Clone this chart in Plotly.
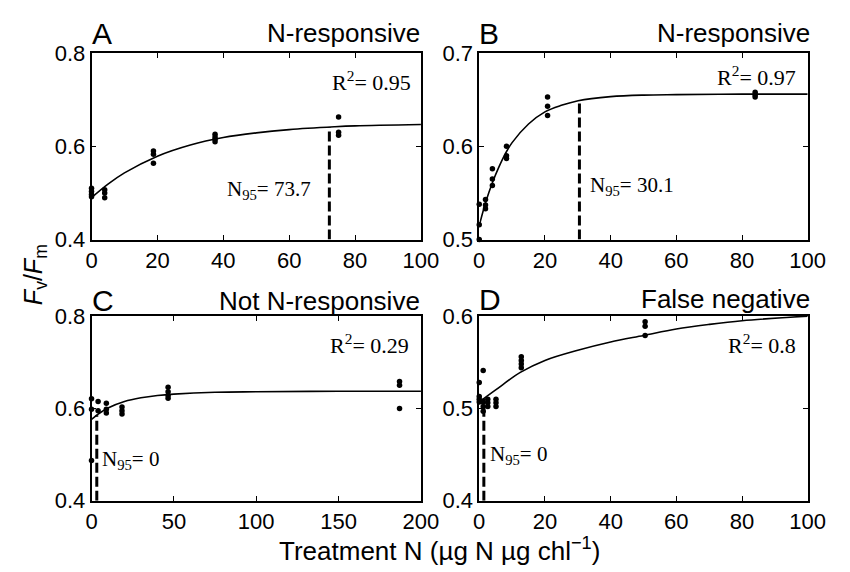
import plotly.graph_objects as go

W, H = 850, 572

# ---------------- data ----------------
# Panel A
a_x = [0, 0, 0, 0, 4, 4, 4, 18.8, 18.8, 18.8, 37.5, 37.5, 37.5, 37.5, 75, 75, 75]
a_y = [0.51, 0.503, 0.497, 0.492, 0.507, 0.50, 0.49, 0.59, 0.583, 0.564, 0.626, 0.62, 0.615, 0.61, 0.663, 0.63, 0.624]
a_fit_x = [0, 5, 10, 20, 30, 40, 50, 60, 73.7, 80, 100]
a_fit_y = [0.49, 0.519, 0.543, 0.579, 0.603, 0.619, 0.629, 0.636, 0.642, 0.644, 0.647]
a_n95 = 72.2
a_r2 = "0.95"
a_n95_txt = "73.7"

# Panel B
b_x = [0, 0, 0, 1.9, 1.9, 1.9, 4, 4, 4, 8.3, 8.3, 8.3, 20.8, 20.8, 20.8, 84, 84, 84]
b_y = [0.538, 0.516, 0.50, 0.543, 0.537, 0.533, 0.576, 0.565, 0.558, 0.60, 0.59, 0.587, 0.653, 0.643, 0.633, 0.658, 0.655, 0.653]
b_fit_x = [0, 2, 4, 6, 8, 10, 15, 20, 25, 30.1, 40, 50, 60, 80, 100]
b_fit_y = [0.515, 0.5405, 0.561, 0.578, 0.5925, 0.604, 0.624, 0.637, 0.644, 0.649, 0.6533, 0.655, 0.6555, 0.656, 0.656]
b_n95 = 30.5
b_r2 = "0.97"
b_n95_txt = "30.1"

# Panel C
c_x = [0, 0, 0, 4, 4, 9, 9, 9, 18.5, 18.5, 18.5, 46.5, 46.5, 46.5, 46.5, 187, 187, 187]
c_y = [0.621, 0.598, 0.487, 0.615, 0.595, 0.611, 0.598, 0.59, 0.603, 0.595, 0.588, 0.646, 0.636, 0.628, 0.622, 0.658, 0.65, 0.60]
c_fit_x = [0, 5, 10, 20, 30, 40, 50, 75, 100, 150, 200]
c_fit_y = [0.576, 0.59, 0.601, 0.615, 0.623, 0.628, 0.631, 0.635, 0.636, 0.637, 0.637]
c_n95 = 3.2
c_r2 = "0.29"
c_n95_txt = "0"

# Panel D
d_x = [0, 0, 0, 0, 1.2, 1.2, 1.2, 1.2, 2.6, 2.6, 2.6, 5.1, 5.1, 5.1, 12.8, 12.8, 12.8, 12.8, 50.5, 50.5, 50.5]
d_y = [0.528, 0.513, 0.51, 0.507, 0.541, 0.507, 0.502, 0.497, 0.51, 0.506, 0.502, 0.51, 0.506, 0.502, 0.556, 0.552, 0.548, 0.544, 0.594, 0.589, 0.579]
d_fit_x = [0, 5, 12.5, 20, 30, 40, 50, 60, 70, 80, 100]
d_fit_y = [0.507, 0.52, 0.539, 0.552, 0.563, 0.572, 0.579, 0.586, 0.591, 0.595, 0.60]
d_n95 = 1.4
d_r2 = "0.8"
d_n95_txt = "0"

panel_letters = ["A", "B", "C", "D"]
panel_titles = ["N-responsive", "N-responsive", "Not N-responsive", "False negative"]
x_ranges = [[0, 100], [0, 100], [0, 200], [0, 100]]
y_ranges = [[0.4, 0.8], [0.5, 0.7], [0.4, 0.8], [0.4, 0.6]]
x_ticks = [[0, 20, 40, 60, 80, 100], [0, 20, 40, 60, 80, 100], [0, 50, 100, 150, 200], [0, 20, 40, 60, 80, 100]]
y_ticks = [[0.4, 0.6, 0.8], [0.5, 0.6, 0.7], [0.4, 0.6, 0.8], [0.4, 0.5, 0.6]]
y_tick_text = [["0.4", "0.6", "0.8"], ["0.5", "0.6", "0.7"], ["0.4", "0.6", "0.8"], ["0.4", "0.5", "0.6"]]

# ---------------- layout (pixel boxes) ----------------
boxes = [  # left, top, right, bottom in px
    (88, 43, 427, 238),
    (487, 43, 825, 238),
    (88, 318, 427, 511),
    (487, 318, 825, 511),
]

def px(x):
    return x / W

def py(y):
    return 1 - y / H

fig = go.Figure()
SANS = "Liberation Sans, Arial, sans-serif"
SERIF = "Liberation Serif, Times New Roman, serif"

panels = [
    (a_x, a_y, a_fit_x, a_fit_y, a_n95, a_r2, a_n95_txt),
    (b_x, b_y, b_fit_x, b_fit_y, b_n95, b_r2, b_n95_txt),
    (c_x, c_y, c_fit_x, c_fit_y, c_n95, c_r2, c_n95_txt),
    (d_x, d_y, d_fit_x, d_fit_y, d_n95, d_r2, d_n95_txt),
]

def interp(xs, ys, x):
    for i in range(len(xs) - 1):
        if xs[i] <= x <= xs[i + 1]:
            t = (x - xs[i]) / (xs[i + 1] - xs[i])
            return ys[i] + t * (ys[i + 1] - ys[i])
    return ys[-1]

for i, (px_, py_, fx, fy, n95, r2, ntxt) in enumerate(panels):
    k = "" if i == 0 else str(i + 1)
    xa, ya = "x" + k, "y" + k
    top = interp(fx, fy, n95)
    fig.add_trace(go.Scatter(x=[n95, n95], y=[y_ranges[i][0], top], mode="lines",
                             line=dict(color="black", width=3, dash="10px,4px"),
                             xaxis=xa, yaxis=ya, showlegend=False, hoverinfo="skip",
                             cliponaxis=False))
    fig.add_trace(go.Scatter(x=fx, y=fy, mode="lines", line=dict(color="black", width=1.6, shape="spline"),
                             xaxis=xa, yaxis=ya, showlegend=False, cliponaxis=False))
    fig.add_trace(go.Scatter(x=px_, y=py_, mode="markers",
                             marker=dict(color="black", size=5.5, symbol="circle"),
                             xaxis=xa, yaxis=ya, showlegend=False, cliponaxis=False))
    l, t, r, b = boxes[i]
    axis_common = dict(showline=True, linecolor="black", linewidth=1.5, mirror="ticks",
                       ticks="inside", ticklen=5, tickwidth=1, tickcolor="black",
                       showgrid=False, zeroline=False,
                       tickfont=dict(family=SANS, size=22, color="black"))
    fig.layout["xaxis" + k] = dict(domain=[px(l), px(r)], anchor=ya, range=x_ranges[i],
                                   tickvals=x_ticks[i], ticktext=[str(v) for v in x_ticks[i]],
                                   **axis_common)
    fig.layout["yaxis" + k] = dict(domain=[py(b), py(t)], anchor=xa, range=y_ranges[i],
                                   tickvals=y_ticks[i], ticktext=y_tick_text[i],
                                   **axis_common)

annotations = []
letter_pos = [(86, 23), (485, 23), (86, 302), (485, 301)]
title_pos = [(428, 22), (829, 22), (428, 302), (829, 300)]
r2_pos = [(419, 72), (815, 67), (417, 347), (815, 347)]
n95_pos = [(225, 186), (599, 182), (97, 468), (496, 463)]
for i in range(4):
    annotations.append(dict(text=panel_letters[i], x=px(letter_pos[i][0]), y=py(letter_pos[i][1]),
                            xref="paper", yref="paper", xanchor="left", yanchor="middle", showarrow=False,
                            font=dict(family=SANS, size=30, color="black")))
    annotations.append(dict(text=panel_titles[i], x=px(title_pos[i][0]), y=py(title_pos[i][1]),
                            xref="paper", yref="paper", xanchor="right", yanchor="middle", showarrow=False,
                            font=dict(family=SANS, size=26, color="black")))
    r2 = panels[i][5]
    annotations.append(dict(text="R<sup>2</sup>= " + r2, x=px(r2_pos[i][0]), y=py(r2_pos[i][1]),
                            xref="paper", yref="paper", xanchor="right", yanchor="middle", showarrow=False,
                            font=dict(family=SERIF, size=22, color="black")))
    annotations.append(dict(text="N<sub>95</sub>= " + panels[i][6], x=px(n95_pos[i][0]), y=py(n95_pos[i][1]),
                            xref="paper", yref="paper", xanchor="left", yanchor="middle", showarrow=False,
                            font=dict(family=SERIF, size=21, color="black")))

annotations.append(dict(text="<i>F</i><sub>v</sub>/<i>F</i><sub>m</sub>", x=px(30), y=py(275),
                        xref="paper", yref="paper", xanchor="center", yanchor="middle", showarrow=False,
                        textangle=-90, font=dict(family=SANS, size=25, color="black")))
annotations.append(dict(text="Treatment N (µg N µg chl<sup>−1</sup>)", x=px(446), y=py(562),
                        xref="paper", yref="paper", xanchor="center", yanchor="middle", showarrow=False,
                        font=dict(family=SANS, size=26, color="black")))

fig.update_layout(width=W, height=H, margin=dict(l=0, r=0, t=0, b=0),
                  paper_bgcolor="white", plot_bgcolor="white",
                  annotations=annotations, showlegend=False)

fig.write_html("out.html")
